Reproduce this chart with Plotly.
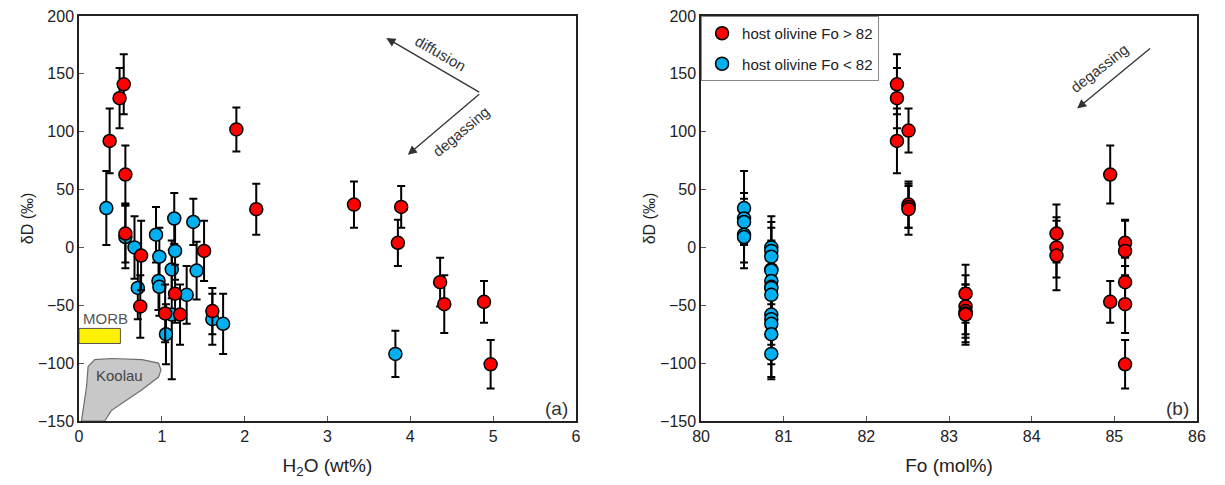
import plotly.graph_objects as go

# ---------------- Panel (a): dD vs H2O ----------------
red_h2o = [0.37, 0.49, 0.54, 0.56, 0.56, 0.75, 0.74, 1.04, 1.16, 1.22, 1.51, 1.61,
           1.90, 2.14, 3.32, 3.89, 3.85, 4.36, 4.41, 4.89, 4.97]
red_dd = [92, 129, 141, 63, 12, -7, -51, -57, -40, -58, -3, -55,
          102, 33, 37, 35, 4, -30, -49, -47, -101]
red_err = [28, 26, 26, 25, 25, 30, 27, 25, 25, 26, 26, 20,
           19, 22, 20, 18, 20, 21, 25, 18, 21]

blue_h2o = [0.33, 0.56, 0.67, 0.71, 0.93, 0.97, 0.96, 0.97, 1.15, 1.16, 1.12, 1.12,
            1.05, 1.38, 1.42, 1.30, 1.61, 1.74, 3.82]
blue_dd = [34, 9, 0, -35, 11, -8, -29, -34, 25, -3, -19, -58,
           -75, 22, -20, -41, -62, -66, -92]
blue_err = [32, 27, 27, 27, 24, 25, 25, 25, 22, 25, 25, 56,
            26, 20, 25, 25, 22, 26, 20]

koolau_x = [0.03, 0.09, 0.11, 0.19, 0.39, 0.76, 0.96, 0.99, 0.96, 0.76, 0.51, 0.39, 0.31, 0.03]
koolau_y = [-150, -121, -103, -97, -96, -97, -100, -106, -112, -123, -135, -141, -150, -150]

morb_x = [0.0, 0.5]
morb_y = [-83, -70]

# ---------------- Panel (b): dD vs Fo ----------------
red_fo = [82.37, 82.37, 82.37, 82.51, 82.51, 82.51, 82.51,
          83.2, 83.2, 83.2, 83.2, 83.2,
          84.3, 84.3, 84.3, 84.95, 84.95,
          85.13, 85.13, 85.13, 85.13, 85.13]
red_dd_b = [141, 129, 92, 101, 37, 35, 33,
            -40, -51, -55, -57, -58,
            12, 0, -7, 63, -47,
            4, -3, -30, -49, -101]
red_err_b = [26, 26, 28, 19, 20, 18, 22,
             25, 27, 20, 25, 26,
             25, 26, 30, 25, 18,
             20, 26, 21, 25, 21]

blue_fo = [80.52, 80.52, 80.52, 80.52, 80.52,
           80.85, 80.85, 80.85, 80.85, 80.85, 80.85, 80.85,
           80.85, 80.85, 80.85, 80.85, 80.85, 80.85, 80.85]
blue_dd_b = [34, 25, 22, 11, 9,
             0, -3, -8, -19, -20, -29, -34,
             -35, -41, -58, -62, -66, -75, -92]
blue_err_b = [32, 22, 20, 24, 27,
              27, 25, 25, 25, 25, 25, 25,
              27, 25, 56, 22, 26, 26, 20]

RED = "#FF0000"
BLUE = "#00B0F0"
FONT = "Liberation Sans, Arial, sans-serif"


def errbar(arr):
    return dict(type="data", array=arr, visible=True, color="black",
                thickness=2, width=4)


def mk(color):
    return dict(color=color, size=13, line=dict(color="black", width=1.5))


fig = go.Figure()

# Koolau field
fig.add_trace(go.Scatter(x=koolau_x, y=koolau_y, mode="lines", fill="toself",
                         fillcolor="#C8C8C8", line=dict(color="#6E6E6E", width=1.2),
                         showlegend=False, hoverinfo="skip", xaxis="x", yaxis="y"))

fig.add_trace(go.Scatter(x=blue_h2o, y=blue_dd, mode="markers", marker=mk(BLUE),
                         error_y=errbar(blue_err), showlegend=False, xaxis="x", yaxis="y"))
fig.add_trace(go.Scatter(x=red_h2o, y=red_dd, mode="markers", marker=mk(RED),
                         error_y=errbar(red_err), showlegend=False, xaxis="x", yaxis="y"))

fig.add_trace(go.Scatter(x=blue_fo, y=blue_dd_b, mode="markers", marker=mk(BLUE),
                         error_y=errbar(blue_err_b), name="host olivine Fo < 82",
                         legendrank=2, legendgroup="lo", xaxis="x2", yaxis="y2"))
fig.add_trace(go.Scatter(x=red_fo, y=red_dd_b, mode="markers", marker=mk(RED),
                         error_y=errbar(red_err_b), name="host olivine Fo > 82",
                         legendrank=1, legendgroup="hi", xaxis="x2", yaxis="y2"))

# MORB box
fig.add_shape(type="rect", xref="x", yref="y", x0=morb_x[0], x1=morb_x[1],
              y0=morb_y[0], y1=morb_y[1], fillcolor="#FFF200",
              line=dict(color="#555555", width=1), layer="above")

axis_common = dict(showline=True, linecolor="#222222", linewidth=1.5, mirror=True,
                   ticks="inside", ticklen=5, tickcolor="#555555", tickwidth=1,
                   showgrid=False, zeroline=False, automargin=False,
                   ticklabeloverflow="allow",
                   tickfont=dict(family=FONT, size=16, color="#222222"))

dom_a = [0.0, 0.4445]
dom_b = [0.5564, 1.0]

fig.update_layout(
    width=1225, height=485,
    margin=dict(l=71, r=36, t=8, b=72, autoexpand=False),
    paper_bgcolor="white", plot_bgcolor="white",
    font=dict(family=FONT, color="#222222"),
    xaxis=dict(domain=dom_a, range=[0, 6], dtick=1, anchor="y",
               title=dict(text="H<sub>2</sub>O (wt%)", font=dict(size=19, family=FONT), standoff=15),
               **axis_common),
    yaxis=dict(domain=[0, 1], range=[-150, 200], dtick=50, anchor="x",
               title=dict(text="δD (‰)", font=dict(size=16, family=FONT), standoff=0),
               **axis_common),
    xaxis2=dict(domain=dom_b, range=[80, 86], dtick=1, anchor="y2",
                title=dict(text="Fo (mol%)", font=dict(size=19, family=FONT), standoff=15),
                **axis_common),
    yaxis2=dict(domain=[0, 1], range=[-150, 200], dtick=50, anchor="x2",
                title=dict(text="δD (‰)", font=dict(size=16, family=FONT), standoff=0),
                **axis_common),
    legend=dict(x=dom_b[0], y=1, xanchor="left", yanchor="top",
                bordercolor="#888888", borderwidth=1, bgcolor="white",
                font=dict(family=FONT, size=15, color="#222222"),
                itemwidth=30, traceorder="grouped", tracegroupgap=8),
    showlegend=True,
)

ann = []
# arrows panel a
ann.append(dict(x=3.71, y=181, ax=4.85, ay=133.5, xref="x", yref="y", axref="x", ayref="y",
                showarrow=True, arrowhead=2, arrowsize=1.4, arrowwidth=1.3,
                arrowcolor="#333333", text=""))
ann.append(dict(x=3.97, y=80, ax=4.85, ay=133.5, xref="x", yref="y", axref="x", ayref="y",
                showarrow=True, arrowhead=2, arrowsize=1.4, arrowwidth=1.3,
                arrowcolor="#333333", text=""))
ann.append(dict(x=4.37, y=168, xref="x", yref="y", text="diffusion", showarrow=False,
                textangle=30, font=dict(family=FONT, size=15, color="#333333")))
ann.append(dict(x=4.61, y=100, xref="x", yref="y", text="degassing", showarrow=False,
                textangle=-40, font=dict(family=FONT, size=15, color="#333333")))
# arrow panel b
ann.append(dict(x=84.55, y=120, ax=85.45, ay=173, xref="x2", yref="y2", axref="x2", ayref="y2",
                showarrow=True, arrowhead=2, arrowsize=1.4, arrowwidth=1.3,
                arrowcolor="#333333", text=""))
ann.append(dict(x=84.81, y=155, xref="x2", yref="y2", text="degassing", showarrow=False,
                textangle=-38, font=dict(family=FONT, size=15, color="#333333")))
# labels
ann.append(dict(x=0.03, y=-61, xref="x", yref="y", text="MORB", showarrow=False,
                xanchor="left", font=dict(family=FONT, size=15, color="#555555")))
ann.append(dict(x=0.49, y=-111, xref="x", yref="y", text="Koolau", showarrow=False,
                font=dict(family=FONT, size=15, color="#444444")))
ann.append(dict(x=5.93, y=-139, xref="x", yref="y", text="(a)", showarrow=False,
                xanchor="right", font=dict(family=FONT, size=19, color="#333333")))
ann.append(dict(x=85.93, y=-139, xref="x2", yref="y2", text="(b)", showarrow=False,
                xanchor="right", font=dict(family=FONT, size=19, color="#333333")))
fig.update_layout(annotations=ann)

fig.write_html("out.html")
